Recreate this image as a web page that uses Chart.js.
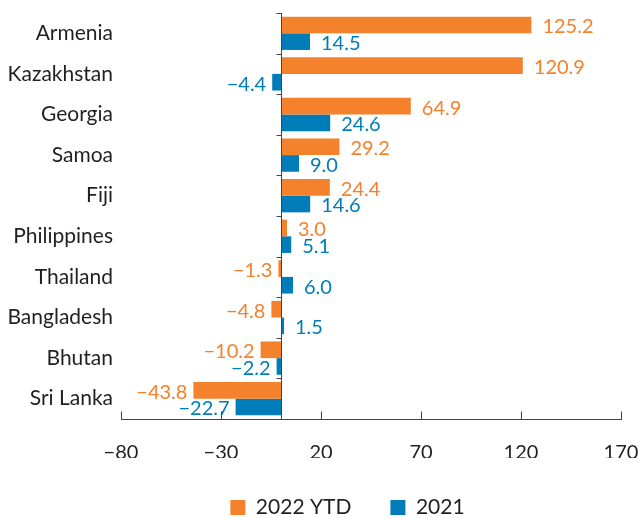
<!DOCTYPE html>
<html><head><meta charset="utf-8">
<script src="https://cdn.jsdelivr.net/npm/chart.js@4"></script>
<style>html,body{margin:0;padding:0;background:#fff}#wrap{width:639px;height:518px}</style>
</head><body><div id="wrap"><canvas id="c" width="639" height="518"></canvas></div>
<script>
const categories = ["Armenia","Kazakhstan","Georgia","Samoa","Fiji","Philippines","Thailand","Bangladesh","Bhutan","Sri Lanka"];
const series2022 = [125.2,120.9,64.9,29.2,24.4,3.0,-1.3,-4.8,-10.2,-43.8];
const series2021 = [14.5,-4.4,24.6,9.0,14.6,5.1,6.0,1.5,-2.2,-22.7];
const seriesNames = ["2022 YTD","2021"];
const xTicks = [-80,-30,20,70,120,170];

const ORANGE = "#F4812C", BLUE = "#007DB8", DARK = "#231F20";
const FONT = "Lato";
const FS = 20;
const fmt = v => (v < 0 ? "\u2212" : "") + Math.abs(v).toFixed(1);

const labelPlugin = {
  id: "lbl",
  afterDatasetsDraw(chart) {
    const ctx = chart.ctx;
    ctx.save();
    ctx.font = FS + "px " + FONT;
    ctx.textBaseline = "middle";
    chart.data.datasets.forEach((ds, di) => {
      const meta = chart.getDatasetMeta(di);
      meta.data.forEach((bar, i) => {
        const v = ds.data[i];
        ctx.fillStyle = ds.backgroundColor;
        if (v >= 0) { ctx.textAlign = "left"; ctx.fillText(fmt(v), bar.x + 11, bar.y + 2); }
        else { ctx.textAlign = "right"; ctx.fillText(fmt(v), bar.x - 6, bar.y + 2); }
      });
    });
    ctx.restore();
  }
};
const axisPlugin = {
  id: "axes",
  afterDraw(chart) {
    const ctx = chart.ctx, xs = chart.scales.x, ys = chart.scales.y, a = chart.chartArea;
    ctx.save();
    ctx.strokeStyle = "#444"; ctx.lineWidth = 1;
    const x0 = Math.round(xs.getPixelForValue(0)) + 0.5;
    const yb = Math.round(a.bottom) + 0.5;
    ctx.beginPath();
    ctx.moveTo(a.left, yb); ctx.lineTo(a.right + 1, yb);
    ctx.moveTo(x0, a.top); ctx.lineTo(x0, yb);
    xTicks.forEach(t => { const px = Math.round(xs.getPixelForValue(t)) + 0.5; ctx.moveTo(px, yb); ctx.lineTo(px, yb - 8); });
    for (let i = 0; i <= categories.length; i++) {
      const py = Math.round(ys.getPixelForValue(i - 0.5)) + 0.5;
      ctx.moveTo(x0, py); ctx.lineTo(x0 - 5, py);
    }
    ctx.stroke();
    ctx.restore();
  }
};
const legendFix = {
  id: "legendFix",
  beforeLayout(chart) {
    const lg = chart.legend;
    if (lg && !lg._patched) {
      const f = lg.fit.bind(lg);
      lg.fit = function () { f(); this.height = 60; };
      lg._patched = true;
    }
  },
  afterLayout(chart) {
    const lg = chart.legend;
    if (lg) { lg.left += 37; lg.right += 37; }
  }
};

new Chart(document.getElementById("c"), {
  type: "bar",
  data: {
    labels: categories,
    datasets: [
      { label: seriesNames[0], data: series2022, backgroundColor: ORANGE, categoryPercentage: 0.82, barPercentage: 1.0 },
      { label: seriesNames[1], data: series2021, backgroundColor: BLUE, categoryPercentage: 0.82, barPercentage: 1.0 }
    ]
  },
  options: {
    indexAxis: "y",
    responsive: false,
    animation: false,
    layout: { padding: { top: 13, right: 18, left: 0, bottom: 0 } },
    scales: {
      x: {
        min: -80, max: 170,
        afterBuildTicks: s => { s.ticks = xTicks.map(v => ({ value: v })); },
        afterFit: s => { s.height = 39; s.paddingLeft = 0; s.paddingRight = 0; },
        grid: { display: false, drawTicks: false },
        border: { display: false },
        ticks: { color: DARK, font: { family: FONT, size: FS }, padding: 22, maxRotation: 0, callback: v => (v < 0 ? "\u2212" : "") + Math.abs(v) }
      },
      y: {
        afterFit: s => { s.width = 121; s.paddingTop = 0; s.paddingBottom = 0; },
        grid: { display: false, drawTicks: false },
        border: { display: false },
        ticks: { color: DARK, font: { family: FONT, size: 21 }, padding: 8 }
      }
    },
    plugins: {
      legend: {
        position: "bottom",
        labels: { color: DARK, font: { family: FONT, size: 21 }, boxWidth: 15, boxHeight: 15, padding: 39 }
      },
      tooltip: { enabled: false }
    }
  },
  plugins: [labelPlugin, axisPlugin, legendFix]
});
</script></body></html>
